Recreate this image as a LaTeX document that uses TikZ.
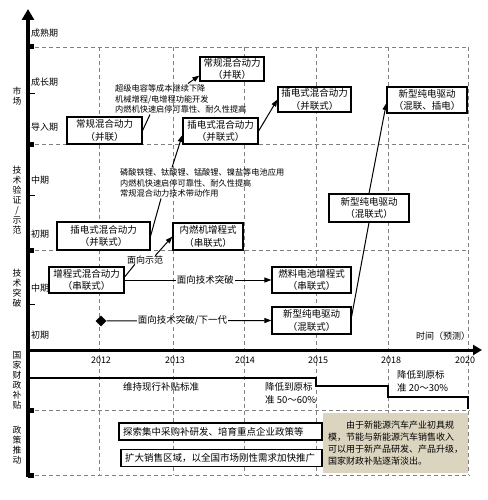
\documentclass[tikz,border=0pt]{standalone}
\usepackage{fontspec}
\setmainfont{Noto Sans CJK SC}
\usepackage{tikz}
\usetikzlibrary{arrows.meta,shapes.geometric}

\definecolor{tanfill}{RGB}{219,213,192}
\tikzset{
  box/.style={draw, line width=1.2pt, fill=white, align=center, inner sep=1pt, font=\fontsize{9.5}{12.5}\selectfont},
  pbox/.style={draw, line width=1.2pt, fill=white, inner xsep=4pt, inner ysep=0pt, minimum height=17pt, text width=195pt, align=left, font=\fontsize{9.5}{11}\selectfont},
  note/.style={align=left, inner sep=1pt, font=\fontsize{8.2}{10.5}\selectfont},
  lab/.style={inner sep=0pt, font=\fontsize{9}{10}\selectfont},
  vlab/.style={inner sep=0pt, align=center, font=\fontsize{8.8}{10}\selectfont},
  grid/.style={gray, line width=0.7pt, dash pattern=on 4pt off 3pt},
  conn/.style={line width=1pt},
  arr/.style={line width=1pt, -{Triangle[length=7pt,width=5pt]}},
}

\begin{document}
\begin{tikzpicture}[x=1pt,y=-1pt]
\useasboundingbox (0,0) rectangle (487,500);

\foreach \yy/\xx in {47/468,144/468,250/468,410/470,475/470}
  \draw[grid] (28,\yy) -- (\xx,\yy);
\foreach \xx in {99,173,244,316,388,468}
  \draw[grid] (\xx,47) -- (\xx,475);

\coordinate (ybot) at (28,477);
\coordinate (ytop) at (28,9);
\coordinate (xo) at (28,350);
\coordinate (xend) at (482,350);
\draw[line width=3.5pt, -{Triangle[length=11pt,width=12pt]}] (ybot) -- (ytop);
\draw[line width=3pt, -{Triangle[length=9pt,width=10pt]}] (xo) -- (xend);
\foreach \yy in {47,144,250,410,475}
  \fill (28,\yy-2.5) rectangle (34,\yy+2.5);
\foreach \yy in {94,195,304}
  \draw[line width=1pt] (28,\yy) -- (35,\yy);

\draw[line width=1.2pt] (28,378) -- (316,378) -- (316,386) -- (388,386) -- (388,397) -- (468,397) -- (468,409);

\node at (17,96) (mk)[vlab]{市\\场};
\node at (17,200) (yz)[vlab]{技\\术\\验\\证\\/\\示\\范};
\node at (17,288) (tp)[vlab]{技\\术\\突\\破};
\node at (17,380) (bt)[vlab]{国\\家\\财\\政\\补\\贴};
\node at (17,445) (zc)[vlab]{政\\策\\推\\动};

\node at (31,33) (s1)[lab, anchor=west]{成熟期};
\node at (31,82) (s2)[lab, anchor=west]{成长期};
\node at (31,127) (s3)[lab, anchor=west]{导入期};
\node at (31,180) (s4)[lab, anchor=west]{中期};
\node at (31,234) (s5)[lab, anchor=west]{初期};
\node at (31,288) (s6)[lab, anchor=west]{中期};
\node at (31,335) (s7)[lab, anchor=west]{初期};

\foreach \xx/\yr in {101/2012,175/2013,245/2014,318/2015,391/2018,465/2020}
  \node at (\xx,360) (y\yr)[lab]{\yr};
\node at (443,336) (sj)[lab]{时间（预测）};

\node at (104.5,130.5) (cgA)[box, minimum width=75pt, minimum height=27pt]{常规混合动力\\（并联）};
\node at (232,69) (cgB)[box, minimum width=64pt, minimum height=24pt]{常规混合动力\\（并联）};
\node at (220.5,131) (cdA)[box, minimum width=75pt, minimum height=26pt]{插电式混合动力\\（并联式）};
\node at (314.5,99.5) (cdB)[box, minimum width=73pt, minimum height=25pt]{插电式混合动力\\（并联式）};
\node at (427,100) (cdqC)[box, minimum width=80pt, minimum height=26pt]{新型纯电驱动\\（混联、插电）};
\node at (103.5,236) (cdC)[box, minimum width=93pt, minimum height=28pt]{插电式混合动力\\（并联式）};
\node at (208,236.5) (nrj)[box, minimum width=70pt, minimum height=27pt]{内燃机增程式\\（串联式）};
\node at (86.5,280) (zcs)[box, minimum width=75pt, minimum height=26pt]{增程式混合动力\\（串联式）};
\node at (311.5,280) (rl)[box, minimum width=79pt, minimum height=26pt]{燃料电池增程式\\（串联式）};
\node at (311.5,320.5) (cdqA)[box, minimum width=79pt, minimum height=27pt]{新型纯电驱动\\（混联式）};
\node at (369,208) (cdqB)[box, minimum width=80pt, minimum height=28pt]{新型纯电驱动\\（混联式）};

\node at (114,99) (t1)[note, anchor=west]{超级电容等成本继续下降\\机械增程/电增程功能开发\\内燃机快速启停可靠性、耐久性提高};
\node at (119,183) (t2)[note, anchor=west]{磷酸铁锂、钛酸锂、锰酸锂、镍盐等电池应用\\内燃机快速启停可靠性、耐久性提高\\常规混合动力技术带动作用};
\node at (145,260) (sf)[lab]{面向示范};
\node at (101,321) (dmd)[diamond, fill=black, minimum size=11pt, inner sep=0pt]{};

\draw[conn] (cgA.east) -- ([xshift=36pt]t1.south west);
\draw[arr] ([xshift=74pt]t1.north west) -- ([yshift=6pt]cgB.south west);
\draw[arr] (cdA.east) -- (cdB.west);
\draw[conn] (cdC.east) -- ([xshift=42pt]t2.south west);
\draw[arr] ([xshift=53pt]t2.north west) -- ([yshift=-4pt]cdA.west);
\draw[conn] ([yshift=3pt]zcs.east) -- ([xshift=8pt]sf.south west);
\draw[arr] ([xshift=-8pt]sf.north east) -- (nrj.west);
\draw[arr] (zcs.east) -- node[pos=0.55, fill=white, inner sep=1pt, font=\fontsize{9.5}{10}\selectfont]{面向技术突破} (rl.west);
\draw[arr] (dmd) -- node[pos=0.46, fill=white, inner sep=1pt, font=\fontsize{9.5}{10}\selectfont]{面向技术突破/下一代} (cdqA.west);
\draw[conn] ([yshift=4pt]cdqA.east) -- (cdqB.south);
\draw[arr] (cdqB.north) -- ([yshift=-3pt]cdqC.west);

\node at (161,387) (wc)[lab, font=\fontsize{9.5}{10}\selectfont]{维持现行补贴标准};
\node at (264,393.5) (jd1)[note, anchor=west, font=\fontsize{9.5}{13}\selectfont]{降低到原标\\准 50～60\%};
\node at (396,381.5) (jd2)[note, anchor=west, font=\fontsize{9.5}{13}\selectfont]{降低到原标\\准 20～30\%};

\node at (220.5,431.5) (p1)[pbox]{探索集中采购补研发、培育重点企业政策等};
\node at (221.5,458) (p2)[pbox, text width=193pt]{扩大销售区域，以全国市场刚性需求加快推广};
\node at (395.5,443) (tan)[fill=tanfill, minimum width=145pt, minimum height=60pt, inner sep=3pt, align=left, font=\fontsize{9}{12}\selectfont]{\hspace*{2em}由于新能源汽车产业初具规\\模，节能与新能源汽车销售收入\\可以用于新产品研发、产品升级，\\国家财政补贴逐渐淡出。};
\end{tikzpicture}
\end{document}
